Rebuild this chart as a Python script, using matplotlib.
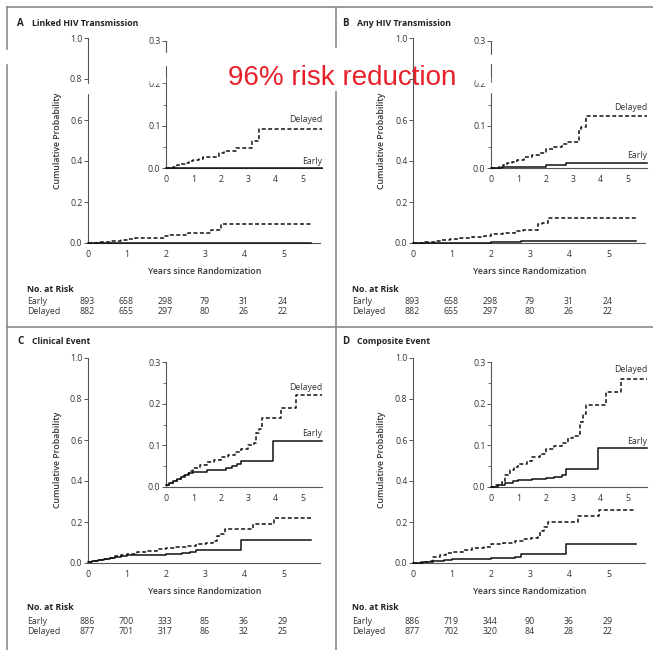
import matplotlib
matplotlib.use('Agg')
import matplotlib.pyplot as plt
from matplotlib.patches import Rectangle
from matplotlib.lines import Line2D
from matplotlib.ticker import MultipleLocator, FuncFormatter

plt.rcParams['font.family'] = ['Open Sans', 'DejaVu Sans']

# ---------------- data ----------------
years = [0, 1, 2, 3, 4, 5]

a_del_t = [0, 0.25, 0.4, 0.55, 0.7, 0.85, 1.0, 1.2, 1.35, 1.95, 2.1, 2.55, 3.15, 3.4, 5.7]
a_del_p = [0, 0.003, 0.006, 0.009, 0.012, 0.016, 0.019, 0.022, 0.025, 0.035, 0.040, 0.047, 0.064, 0.092, 0.092]
a_early_t = [0, 5.7]
a_early_p = [0, 0]

b_del_t = [0, 0.3, 0.45, 0.6, 0.75, 0.95, 1.2, 1.5, 1.8, 2.0, 2.3, 2.6, 2.8, 3.2, 3.3, 3.45, 5.7]
b_del_p = [0, 0.003, 0.007, 0.011, 0.015, 0.019, 0.025, 0.030, 0.035, 0.045, 0.050, 0.057, 0.062, 0.092, 0.096, 0.122, 0.122]
b_early_t = [0, 0.4, 2.0, 2.75, 5.7]
b_early_p = [0, 0.002, 0.006, 0.012, 0.012]

c_del_t = [0, 0.1, 0.25, 0.4, 0.55, 0.7, 0.85, 1.0, 1.25, 1.5, 1.75, 2.0, 2.25, 2.5, 2.75, 3.0, 3.2, 3.3, 3.4, 3.5, 4.2, 4.75, 5.7]
c_del_p = [0.004, 0.01, 0.015, 0.02, 0.026, 0.032, 0.038, 0.045, 0.052, 0.06, 0.066, 0.072, 0.078, 0.085, 0.092, 0.1, 0.105, 0.13, 0.14, 0.165, 0.19, 0.22, 0.22]
c_early_t = [0, 0.1, 0.25, 0.4, 0.55, 0.7, 0.85, 1.0, 1.5, 2.0, 2.2, 2.4, 2.6, 2.75, 3.9, 5.7]
c_early_p = [0.004, 0.01, 0.015, 0.02, 0.025, 0.03, 0.034, 0.037, 0.04, 0.042, 0.046, 0.05, 0.055, 0.062, 0.11, 0.11]

d_del_t = [0, 0.2, 0.4, 0.5, 0.7, 0.85, 1.0, 1.3, 1.5, 1.8, 2.0, 2.3, 2.6, 2.8, 3.0, 3.2, 3.25, 3.35, 3.45, 4.2, 4.75, 5.7]
d_del_p = [0, 0.005, 0.012, 0.03, 0.04, 0.048, 0.055, 0.062, 0.072, 0.08, 0.092, 0.098, 0.105, 0.118, 0.122, 0.128, 0.155, 0.175, 0.198, 0.228, 0.26, 0.26]
d_early_t = [0, 0.25, 0.5, 0.8, 1.0, 1.5, 2.0, 2.3, 2.6, 2.75, 3.9, 5.7]
d_early_p = [0, 0.005, 0.01, 0.015, 0.018, 0.02, 0.022, 0.025, 0.03, 0.043, 0.094, 0.094]

ab_risk_early = [893, 658, 298, 79, 31, 24]
ab_risk_delayed = [882, 655, 297, 80, 26, 22]
c_risk_early = [886, 700, 333, 85, 36, 29]
c_risk_delayed = [877, 701, 317, 86, 32, 25]
d_risk_early = [886, 719, 344, 90, 36, 29]
d_risk_delayed = [877, 702, 320, 84, 28, 22]

panel_letters = ['A', 'B', 'C', 'D']
panel_titles = ['Linked HIV Transmission', 'Any HIV Transmission', 'Clinical Event', 'Composite Event']
annotation = '96% risk reduction'

# ---------------- layout helpers ----------------
W, H = 653, 650
fig = plt.figure(figsize=(W / 100, H / 100), dpi=100)

def fx(px):
    return px / W

def fy(py):
    return 1 - py / H

def add_ax(left, right, top, bottom):
    return fig.add_axes([fx(left), fy(bottom), (right - left) / W, (bottom - top) / H])

FS = 6.3
TXT = '#333333'
SPINE = '#555555'

def style_ax(ax, ymax, ystep, minor=None, hide=None):
    for s in ['top', 'right']:
        ax.spines[s].set_visible(False)
    for s in ['left', 'bottom']:
        ax.spines[s].set_color(SPINE)
        ax.spines[s].set_linewidth(0.8)
    ax.set_ylim(0, ymax)
    ax.yaxis.set_major_locator(MultipleLocator(ystep))
    if minor:
        ax.yaxis.set_minor_locator(MultipleLocator(minor))
        ax.tick_params(axis='y', which='minor', length=2, width=0.6, color=SPINE)
    ax.set_xticks(years)

    def fmt(v, pos):
        if hide is not None and abs(v - hide) < 1e-6:
            return ''
        return '%.1f' % v
    ax.yaxis.set_major_formatter(FuncFormatter(fmt))
    ax.tick_params(axis='y', which='major', length=3, width=0.7, color=SPINE,
                   labelsize=FS, labelcolor=TXT, pad=1)
    ax.tick_params(axis='x', which='major', length=0, labelsize=FS, labelcolor=TXT, pad=5)
    ax.patch.set_alpha(0)

def draw_curves(ax, dt, dp, et, ep):
    ax.step(et, ep, where='post', color='#111111', lw=1.1, clip_on=False, zorder=3)
    ax.step(dt, dp, where='post', color='#111111', lw=1.1, dashes=(2.6, 1.6),
            clip_on=False, zorder=3)

# per-panel specs: x offset, main axes box, inset box, text rows
panels = [
    dict(ox=0, main=(38, 243), inset=(41, 168), title=23, ylab=141, xlab=272,
         nar=289, er=301, dr=312, lab_del=119, lab_early=162, hide=None,
         data=(a_del_t, a_del_p, a_early_t, a_early_p),
         risk=(ab_risk_early, ab_risk_delayed)),
    dict(ox=325, main=(38, 243), inset=(41, 168), title=23, ylab=141, xlab=272,
         nar=289, er=301, dr=312, lab_del=107, lab_early=156, hide=0.8,
         data=(b_del_t, b_del_p, b_early_t, b_early_p),
         risk=(ab_risk_early, ab_risk_delayed)),
    dict(ox=0, main=(358, 563), inset=(362, 487), title=342, ylab=460, xlab=592,
         nar=608, er=621, dr=632, lab_del=387, lab_early=433, hide=None,
         data=(c_del_t, c_del_p, c_early_t, c_early_p),
         risk=(c_risk_early, c_risk_delayed)),
    dict(ox=325, main=(358, 563), inset=(362, 487), title=342, ylab=460, xlab=592,
         nar=608, er=621, dr=632, lab_del=369, lab_early=441, hide=None,
         data=(d_del_t, d_del_p, d_early_t, d_early_p),
         risk=(d_risk_early, d_risk_delayed)),
]

for i, p in enumerate(panels):
    ox = p['ox']
    # main axes
    ax = add_ax(ox + 88, ox + 320, p['main'][0], p['main'][1])
    style_ax(ax, 1.0, 0.2, hide=p['hide'])
    ax.set_xlim(0, 5.92)
    draw_curves(ax, *p['data'])
    # inset
    ins = add_ax(ox + 166, ox + 322, p['inset'][0], p['inset'][1])
    style_ax(ins, 0.3, 0.1, minor=0.05)
    ins.set_xlim(0, 5.69)
    draw_curves(ins, *p['data'])
    fig.text(fx(ox + 322), fy(p['lab_del']), 'Delayed', ha='right', va='center',
             fontsize=FS, color=TXT)
    fig.text(fx(ox + 322), fy(p['lab_early']), 'Early', ha='right', va='center',
             fontsize=FS, color=TXT)
    # titles and labels
    fig.text(fx(ox + 17), fy(p['title']), panel_letters[i], ha='left', va='center',
             fontsize=7, fontweight='bold', color='#222222')
    fig.text(fx(ox + 32), fy(p['title']), panel_titles[i], ha='left', va='center',
             fontsize=FS, fontweight='bold', color='#222222')
    fig.text(fx(ox + 57), fy(p['ylab']), 'Cumulative Probability', rotation=90,
             ha='center', va='center', fontsize=FS, fontweight='semibold', color=TXT)
    fig.text(fx(ox + 205), fy(p['xlab']), 'Years since Randomization', ha='center',
             va='center', fontsize=FS, fontweight='semibold', color=TXT)
    fig.text(fx(ox + 27), fy(p['nar']), 'No. at Risk', ha='left', va='center',
             fontsize=FS, fontweight='bold', color='#222222')
    fig.text(fx(ox + 27), fy(p['er']), 'Early', ha='left', va='center',
             fontsize=FS, color=TXT)
    fig.text(fx(ox + 27), fy(p['dr']), 'Delayed', ha='left', va='center',
             fontsize=FS, color=TXT)
    tr = matplotlib.transforms.blended_transform_factory(ax.transData, fig.transFigure)
    for yr, ne, nd in zip(years, p['risk'][0], p['risk'][1]):
        fig.text(yr - 0.03, fy(p['er']), str(ne), transform=tr, ha='center', va='center',
                 fontsize=FS, color=TXT)
        fig.text(yr - 0.03, fy(p['dr']), str(nd), transform=tr, ha='center', va='center',
                 fontsize=FS, color=TXT)

# frame lines
FRAME = '#8a8a8a'
for (x0, y0, x1, y1) in [(7, 7, 653, 7), (7, 7, 7, 650), (336, 7, 336, 650), (7, 327, 653, 327)]:
    fig.add_artist(Line2D([fx(x0), fx(x1)], [fy(y0), fy(y1)], color=FRAME, lw=1.2,
                          transform=fig.transFigure))

# white erasures seen in the reference
for (x0, y0, x1, y1) in [(0, 50, 12, 63), (83, 84, 93, 93), (160, 53, 172, 65),
                         (150, 77, 165, 82), (331, 48, 341, 90),
                         (486, 55, 496, 63), (486, 83, 496, 92), (476, 77, 490, 82)]:
    fig.add_artist(Rectangle((fx(x0), fy(y1)), (x1 - x0) / W, (y1 - y0) / H,
                             transform=fig.transFigure, color='white', zorder=10))

fig.text(fx(342), fy(78), annotation, ha='center', va='center', fontsize=20,
         color='#e8202a', family=['Liberation Sans', 'DejaVu Sans'], zorder=11)

fig.savefig('out.png', dpi=100, facecolor='white')
